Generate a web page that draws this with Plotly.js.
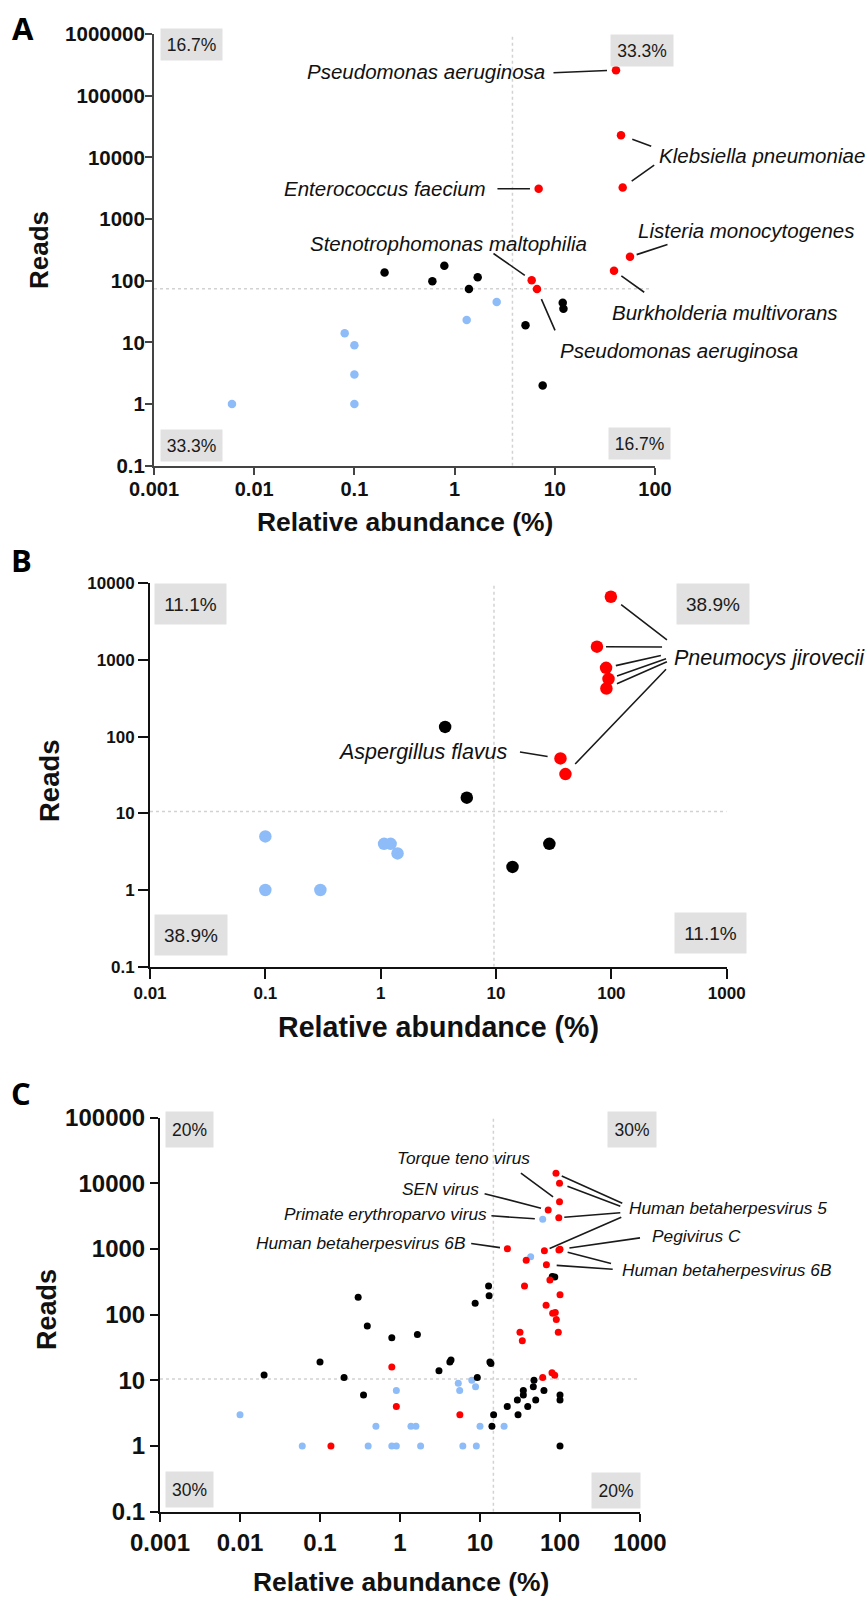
<!DOCTYPE html>
<html><head><meta charset="utf-8">
<script src="https://cdn.plot.ly/plotly-3.0.1.min.js"></script>
<style>html,body{margin:0;padding:0;background:#fff}#chart{width:867px;height:1598px}</style>
</head><body><div id="chart"></div>
<script>
// ---------- Panel A (bacteria) ----------
const aXTicks = [0.001, 0.01, 0.1, 1, 10, 100];
const aXTickText = ['0.001', '0.01', '0.1', '1', '10', '100'];
const aYTicks = [0.1, 1, 10, 100, 1000, 10000, 100000, 1000000];
const aYTickText = ['0.1', '1', '10', '100', '1000', '10000', '100000', '1000000'];
const aBlueX = [0.006, 0.08, 0.1, 0.1, 0.1, 1.32, 2.63];
const aBlueY = [1, 14, 9, 3, 1, 23, 45];
const aBlackX = [0.2, 0.6, 0.79, 1.39, 1.7, 5.1, 7.57, 12, 12.2];
const aBlackY = [136, 98, 175, 73, 114, 19, 2, 44, 35];
const aRedX = [40.8, 45.8, 47.6, 6.9, 56.3, 39, 5.88, 6.64];
const aRedY = [259000, 22900, 3250, 3090, 244, 145, 102, 73];
const aRedNames = ['Pseudomonas aeruginosa', 'Klebsiella pneumoniae', 'Klebsiella pneumoniae', 'Enterococcus faecium',
  'Listeria monocytogenes', 'Burkholderia multivorans', 'Stenotrophomonas maltophilia', 'Pseudomonas aeruginosa'];
const aCutX = 3.78, aCutY = 74;
const aQuadrants = ['16.7%', '33.3%', '33.3%', '16.7%']; // TL, TR, BL, BR

// ---------- Panel B (fungi) ----------
const bXTicks = [0.01, 0.1, 1, 10, 100, 1000];
const bXTickText = ['0.01', '0.1', '1', '10', '100', '1000'];
const bYTicks = [0.1, 1, 10, 100, 1000, 10000];
const bYTickText = ['0.1', '1', '10', '100', '1000', '10000'];
const bBlueX = [0.1, 0.1, 0.3, 1.07, 1.22, 1.4];
const bBlueY = [5, 1, 1, 4, 4, 3];
const bBlackX = [3.62, 5.58, 13.9, 29];
const bBlackY = [134, 16, 2, 4];
const bRedX = [99, 75, 90, 94.5, 90.6, 36.2, 40];
const bRedY = [6670, 1490, 790, 565, 425, 52, 32.5];
const bRedNames = ['Pneumocys jirovecii', 'Pneumocys jirovecii', 'Pneumocys jirovecii', 'Pneumocys jirovecii',
  'Pneumocys jirovecii', 'Aspergillus flavus', 'Pneumocys jirovecii'];
const bCutX = 9.6, bCutY = 10.6;
const bQuadrants = ['11.1%', '38.9%', '38.9%', '11.1%'];

// ---------- Panel C (viruses) ----------
const cXTicks = [0.001, 0.01, 0.1, 1, 10, 100, 1000];
const cXTickText = ['0.001', '0.01', '0.1', '1', '10', '100', '1000'];
const cYTicks = [0.1, 1, 10, 100, 1000, 10000, 100000];
const cYTickText = ['0.1', '1', '10', '100', '1000', '10000', '100000'];
const cBlueX = [0.01, 0.06, 0.4, 0.5, 0.79, 0.9, 0.9, 1.37, 1.58, 1.81, 5.35, 5.57, 6.1, 7.9, 8.8, 9, 10, 20, 43, 60.8];
const cBlueY = [3, 1, 1, 2, 1, 7, 1, 2, 2, 1, 9, 7, 1, 10, 8, 1, 2, 2, 761, 2820];
const cBlueNames = ['', '', '', '', '', '', '', '', '', '', '', '', '', '', '', '', '', '', '', 'Primate erythroparvo virus'];
const cBlackX = [0.02, 0.1, 0.2, 0.3, 0.35, 0.39, 0.79, 1.65, 3.07, 4.2, 4.34, 8.7, 9.25, 12.8, 13, 13.3, 13.7, 14.1,
  14.8, 21.9, 29.3, 29.9, 34.8, 34.8, 39.5, 46.4, 47.3, 49.7, 63, 100, 100, 100, 80, 86];
const cBlackY = [12, 19, 11, 183, 6, 67, 44.5, 50, 14, 19, 20.4, 149, 11, 272, 194, 19, 18, 2,
  3, 4, 5, 3, 7, 6, 4, 8, 10, 5, 7, 6, 5, 1, 380, 375];
const cRedX = [0.137, 0.79, 0.9, 5.6, 22, 31.6, 33.8, 36, 37.8, 60.8, 63.8, 67, 67.6, 71.2, 74.8, 79.4, 81, 85.9,
  87.3, 89.1, 89.9, 95.2, 96.6, 98.6, 98.6, 100, 97, 100];
const cRedY = [1, 16, 4, 3, 1007, 54, 40, 272, 670, 11, 939, 139, 575, 3910, 336, 13, 105, 11.9,
  108, 14150, 84, 54, 2985, 9960, 5230, 986, 960, 201];
const cRedNames = ['', '', '', '', 'Human betaherpesvirus 6B', '', '', '', '', '', 'Human betaherpesvirus 5', '',
  'Human betaherpesvirus 6B', 'SEN virus', '', '', '', '', '', 'Human betaherpesvirus 5', '', '',
  'Human betaherpesvirus 5', 'Human betaherpesvirus 5', 'Torque teno virus', 'Pegivirus C', 'Human betaherpesvirus 6B', ''];
const cCutX = 14.7, cCutY = 10.5;
const cQuadrants = ['20%', '30%', '30%', '20%'];

const xTitle = 'Relative abundance (%)';
const yTitle = 'Reads';
const panelLetters = ['A', 'B', 'C'];

// ---------- styling ----------
const W = 867, H = 1598;
const FONT = 'Liberation Sans, Arial, Helvetica, sans-serif';
const RED = '#ff0000', BLUE = '#8dbcf8', BLACK = '#000000';
const px = v => v / W;
const py = v => 1 - v / H;

const panels = [
  {xa: 'x', ya: 'y', blue: [aBlueX, aBlueY], black: [aBlackX, aBlackY], red: [aRedX, aRedY], size: 8.5,
   cut: [aCutX, aCutY], xr: [0.001, 100], yr: [0.1, 1000000], hEnd: 92},
  {xa: 'x2', ya: 'y2', blue: [bBlueX, bBlueY], black: [bBlackX, bBlackY], red: [bRedX, bRedY], size: 12.5,
   cut: [bCutX, bCutY], xr: [0.01, 1000], yr: [0.1, 10000], hEnd: 1000},
  {xa: 'x3', ya: 'y3', blue: [cBlueX, cBlueY], black: [cBlackX, cBlackY], red: [cRedX, cRedY], size: 7,
   cut: [cCutX, cCutY], xr: [0.001, 1000], yr: [0.1, 100000], hEnd: 1000}
];

const traces = [];
panels.forEach(p => {
  const dot = {color: '#d2d2d2', width: 1.5, dash: 'dot'};
  traces.push({x: [p.cut[0], p.cut[0]], y: [p.yr[0], p.yr[1]], xaxis: p.xa, yaxis: p.ya, mode: 'lines', line: dot, hoverinfo: 'skip'});
  traces.push({x: [p.xr[0], p.hEnd], y: [p.cut[1], p.cut[1]], xaxis: p.xa, yaxis: p.ya, mode: 'lines', line: dot, hoverinfo: 'skip'});
  [['blue', BLUE], ['black', BLACK], ['red', RED]].forEach(([k, col]) => {
    traces.push({x: p[k][0], y: p[k][1], xaxis: p.xa, yaxis: p.ya, mode: 'markers', cliponaxis: false,
      marker: {color: col, size: p.size, line: {width: 0}}});
  });
});

function axis(dom, anchor, range, tv, tt, size, tl, lc, so) {
  return {type: 'log', domain: dom, anchor, range, tickvals: tv, ticktext: tt, showline: true, linecolor: lc,
    linewidth: 2, ticks: 'outside', ticklen: tl, tickwidth: 2, tickcolor: lc, showgrid: false, zeroline: false,
    ticklabelstandoff: so || 0,
    tickfont: {family: FONT, size, color: '#111', weight: 700}, fixedrange: true};
}

const annotations = [];
function leader(xa, ya, xs, ys, i, ax, ay, s) {
  annotations.push({xref: xa, yref: ya, x: Math.log10(xs[i]), y: Math.log10(ys[i]), text: '', showarrow: true,
    arrowhead: 0, arrowwidth: 1.6, arrowcolor: '#1a1a1a', ax, ay, standoff: s});
}
leader('x', 'y', aRedX, aRedY, 0, -64, 2.7, 9);
leader('x', 'y', aRedX, aRedY, 1, 31.7, 11.7, 12);
leader('x', 'y', aRedX, aRedY, 2, 33, -23.3, 11);
leader('x', 'y', aRedX, aRedY, 3, -42.7, 0, 8.7);
leader('x', 'y', aRedX, aRedY, 4, 39, -12.7, 7);
leader('x', 'y', aRedX, aRedY, 5, 31.7, 22.6, 9);
leader('x', 'y', aRedX, aRedY, 6, -39.7, -27.7, 8.4);
leader('x', 'y', aRedX, aRedY, 7, 18.7, 42.7, 11);

leader('x2', 'y2', bRedX, bRedY, 0, 57.6, 44.3, 13);
leader('x2', 'y2', bRedX, bRedY, 1, 66.6, 0.3, 9);
leader('x2', 'y2', bRedX, bRedY, 2, 56.3, -12.7, 10);
leader('x2', 'y2', bRedX, bRedY, 3, 59, -20.7, 9);
leader('x2', 'y2', bRedX, bRedY, 4, 62, -27.3, 11.5);
leader('x2', 'y2', bRedX, bRedY, 5, -42, -6.6, 13);
leader('x2', 'y2', bRedX, bRedY, 6, 102, -106.3, 14);

leader('x3', 'y3', cRedX, cRedY, 24, -40.1, -29.7, 8);
leader('x3', 'y3', cRedX, cRedY, 13, -65.1, -16.7, 7.4);
leader('x3', 'y3', cBlueX, cBlueY, 19, -52.8, -3.6, 7.9);
leader('x3', 'y3', cRedX, cRedY, 4, -37.7, -5.4, 7.5);
leader('x3', 'y3', cRedX, cRedY, 19, 67.8, 30.7, 6.3);
leader('x3', 'y3', cRedX, cRedY, 23, 62.3, 23.4, 8.5);
leader('x3', 'y3', cRedX, cRedY, 22, 63, -5, 5.5);
leader('x3', 'y3', cRedX, cRedY, 10, 78.4, -34, 5.7);
leader('x3', 'y3', cRedX, cRedY, 25, 81.5, -11.6, 9.5);
leader('x3', 'y3', cRedX, cRedY, 26, 53.6, 13.9, 9);
leader('x3', 'y3', cRedX, cRedY, 12, 67.8, 4.6, 10.3);

function label(text, x, y, anchor, size) {
  annotations.push({xref: 'paper', yref: 'paper', x: px(x), y: py(y), xanchor: anchor, yanchor: 'middle',
    text: '<i>' + text + '</i>', showarrow: false, font: {family: FONT, size, color: '#111'}});
}
label(aRedNames[0], 547, 71, 'right', 20.5);
label(aRedNames[1], 656.7, 155.7, 'left', 20.5);
label(aRedNames[3], 488.3, 188.7, 'right', 20.5);
label(aRedNames[6], 308.3, 243, 'left', 20.5);
label(aRedNames[4], 635.7, 230, 'left', 20.5);
label(aRedNames[5], 610, 312.3, 'left', 20.5);
label(aRedNames[7], 557.7, 350.7, 'left', 20.5);

label(bRedNames[0], 671.7, 658.3, 'left', 21.5);
label(bRedNames[5], 510, 751.7, 'right', 21.5);

label(cRedNames[24], 395, 1158.3, 'left', 17.3);
label(cRedNames[13], 480.7, 1189.3, 'right', 17.3);
label(cBlueNames[19], 488.6, 1214, 'right', 17.3);
label(cRedNames[4], 467, 1242.7, 'right', 17.3);
label(cRedNames[19], 626.6, 1208.3, 'left', 17.3);
label(cRedNames[25], 649.5, 1236, 'left', 17.3);
label(cRedNames[12], 620.4, 1270, 'left', 17.3);

function qbox(text, cx, cy, w, h, size) {
  annotations.push({xref: 'paper', yref: 'paper', x: px(cx), y: py(cy), xanchor: 'center', yanchor: 'middle',
    text, showarrow: false, width: w, height: h, bgcolor: '#e1e1e1', borderpad: 0,
    font: {family: FONT, size, color: '#1a1a1a'}});
}
qbox(aQuadrants[0], 191, 45, 61, 31, 17.5);
qbox(aQuadrants[1], 641.9, 50.9, 62, 31, 17.5);
qbox(aQuadrants[2], 191, 445, 61, 31, 17.5);
qbox(aQuadrants[3], 639.5, 443.7, 61, 31, 17.5);
qbox(bQuadrants[0], 190.3, 604, 71, 40, 19);
qbox(bQuadrants[1], 713, 604, 72, 40, 19);
qbox(bQuadrants[2], 191.2, 935, 72, 40, 19);
qbox(bQuadrants[3], 710.5, 933, 71, 40, 19);
qbox(cQuadrants[0], 189.7, 1129.2, 47, 35, 17.5);
qbox(cQuadrants[1], 632, 1129.2, 48, 35, 17.5);
qbox(cQuadrants[2], 189.7, 1489.8, 47, 35, 17.5);
qbox(cQuadrants[3], 616.2, 1490.8, 48, 35, 17.5);

function title(text, cx, cy, size, angle) {
  annotations.push({xref: 'paper', yref: 'paper', x: px(cx), y: py(cy), xanchor: 'center', yanchor: 'middle',
    text: '<b>' + text + '</b>', showarrow: false, textangle: angle || 0, font: {family: FONT, size, color: '#111'}});
}
title(xTitle, 405, 522, 26.4);
title(yTitle, 39, 250, 26, -90);
title(xTitle, 438.8, 1027, 28.6);
title(yTitle, 49, 781, 27.5, -90);
title(xTitle, 400.8, 1582, 26.4);
title(yTitle, 47, 1310, 27, -90);

[[panelLetters[0], 23, 28], [panelLetters[1], 21, 560], [panelLetters[2], 21, 1093]].forEach(([t, x, y]) => {
  annotations.push({xref: 'paper', yref: 'paper', x: px(x), y: py(y), xanchor: 'center', yanchor: 'middle',
    text: '<b>' + t + '</b>', showarrow: false, font: {family: 'Open Sans, Noto Sans, sans-serif', size: 31, color: '#000'}});
});

const layout = {
  width: W, height: H, margin: {l: 0, r: 0, t: 0, b: 0}, showlegend: false, hovermode: false,
  paper_bgcolor: '#ffffff', plot_bgcolor: 'rgba(0,0,0,0)',
  xaxis: axis([154 / W, 655 / W], 'y', [-3, 2], aXTicks, aXTickText, 20, 7, '#444', -3),
  yaxis: axis([1 - 465.7 / H, 1 - 34 / H], 'x', [-1, 6], aYTicks, aYTickText, 20.5, 7, '#444', -4),
  xaxis2: axis([150 / W, 726.7 / W], 'y2', [-2, 3], bXTicks, bXTickText, 17, 10, '#111'),
  yaxis2: axis([1 - 966.7 / H, 1 - 583.3 / H], 'x2', [-1, 4], bYTicks, bYTickText, 17, 10, '#111'),
  xaxis3: axis([160 / W, 640 / W], 'y3', [-3, 3], cXTicks, cXTickText, 24, 8, '#111'),
  yaxis3: axis([1 - 1511.7 / H, 1 - 1117.5 / H], 'x3', [-1, 5], cYTicks, cYTickText, 24, 8, '#111'),
  annotations
};

Plotly.newPlot('chart', traces, layout, {staticPlot: true, displayModeBar: false});
</script>
</body></html>
